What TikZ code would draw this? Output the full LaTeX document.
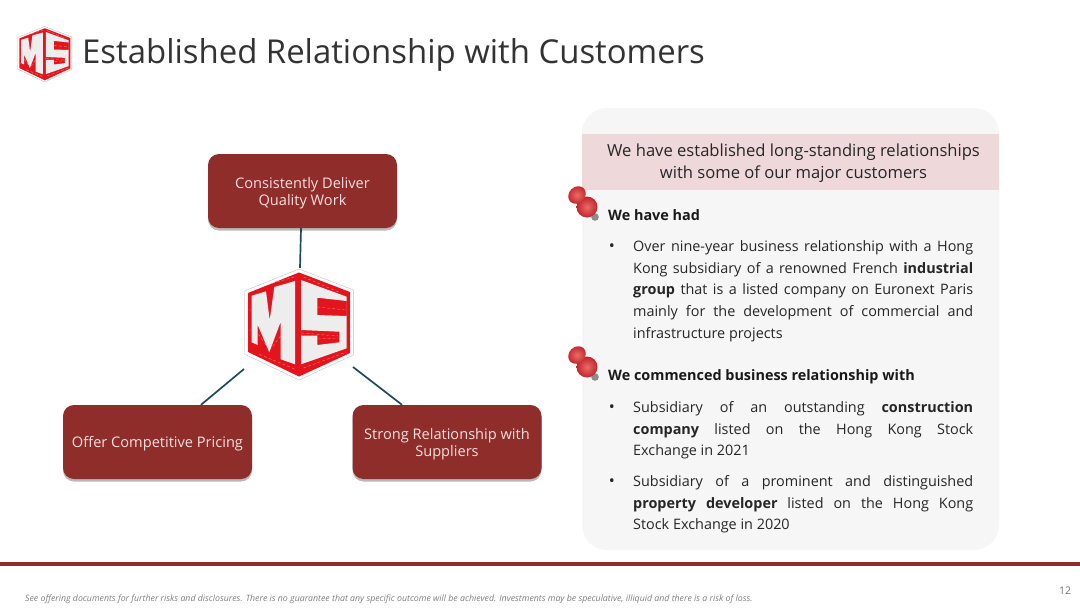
\documentclass[tikz,border=0pt]{standalone}
\usepackage{fontspec}
\setmainfont{Open Sans}
\usetikzlibrary{positioning,shadows,calc}
\definecolor{brickred}{HTML}{8F2D2B}
\definecolor{lightpink}{HTML}{F7E0DE}
\definecolor{bandpink}{HTML}{EFD8D9}
\definecolor{panelgray}{HTML}{F6F6F6}
\definecolor{linkblue}{HTML}{1F4A5C}
\definecolor{logored}{HTML}{E3141C}
\definecolor{logowhite}{HTML}{EDEDED}
\definecolor{pinlight}{HTML}{EE6A6A}
\definecolor{pindark}{HTML}{C0262B}
\tikzstyle{link} = [linkblue,line width=1.7pt]
\tikzstyle{bluebox} = [draw=none,fill=brickred,rounded corners=11pt,minimum width=189pt,minimum height=74pt,text=lightpink,align=center,font=\fontsize{14.6}{17}\selectfont,drop shadow={shadow xshift=0pt,shadow yshift=-2.5pt,opacity=.55}]
\tikzstyle{bodytext} = [inner sep=0pt,anchor=north west,align=left,text=black!85,font=\fontsize{14.4}{21.6}\selectfont]
\tikzstyle{headtext} = [inner sep=0pt,anchor=west,text=black!90,font=\fontsize{14.4}{16}\selectfont\bfseries]
\tikzstyle{bulletmark} = [inner sep=0pt,text=black!85,font=\fontsize{16}{16}\selectfont]
\newcommand{\jline}[1]{\makebox[340pt][s]{#1}}
\newcommand{\boxstrut}{\rule{0pt}{15pt}}
% hexagon with the two letters
\newcommand{\drawlogo}[2]{
  \begin{scope}[shift={(#1)},scale=#2]
    \fill[white,draw=black!25,line width=.4pt] (0.5,-55) -- (54.8,-34) -- (54.8,31) -- (0.5,56) -- (-54,30) -- (-54,-33) -- cycle;
    \fill[logored] (0.5,-51.5) -- (51.5,-32) -- (51.5,29) -- (0.5,52.5) -- (-50.5,28) -- (-50.5,-31) -- cycle;
    \draw[white,opacity=.45,line width=.4pt,densely dashed] (-50,-14) -- (-47,-14) (-50,6) -- (-47,6) (-40,10) -- (-32,22) (-18,12) -- (-27,24) (-17,26) -- (-4,26) (-36,-38) -- (-4,-47) (5,-47) -- (40,-32) (19,-17) -- (48,-14) (19,-3) -- (48,-2) (3,9) -- (40,12) (19,15) -- (40,14) (5,44) -- (48,28) (-4,45) -- (-40,30);
    \fill[logowhite] (-46.8,-28.3) -- (-32.5,-32.7) -- (-28.8,-4) -- (-24.2,-37) -- (-3.5,-43) -- (-3.5,40.3) -- (-17.8,35.3) -- (-17.8,-2.3) -- (-29.2,28.3) -- (-40.8,1) -- (-40.8,21) -- (-46.8,18.3) -- cycle;
    \fill[logowhite,even odd rule] (2.5,-44) -- (48.2,-27.3) -- (48.2,24.3) -- (2.5,40.3) -- cycle
      (18.8,-26.3) -- (48.2,-23) -- (48.2,-8) -- (18.8,-9) -- cycle
      (2.5,6) -- (40.8,7.7) -- (40.8,18.3) -- (18.8,21) -- (18.8,11.7) -- (2.5,11.7) -- cycle;
  \end{scope}
}
\newcommand{\drawpin}[1]{
  \begin{scope}[shift={(#1)}]
    \fill[black!45] (0,0) circle (3.8pt);
    \fill[pindark] (-20,-17) -- (-14,-24) -- (-4,-14) -- (-12,-5) -- cycle;
    \shade[inner color=pinlight,outer color=pindark] (-8,-10) circle (10.5pt);
    \shade[inner color=pinlight,outer color=pindark,rotate around={45:(-18,-22)}] (-18,-22) ellipse (9.5pt and 8pt);
  \end{scope}
}

\begin{document}
\begin{tikzpicture}[x=1pt,y=-1pt,on grid]
    \path[use as bounding box,fill=white] (0,0) rectangle (1080,608);
    \drawlogo{44.5,54}{0.5}
    \node[inner sep=0pt,anchor=west,text=black!80,font=\fontsize{32.9}{36}\selectfont] (title) at (82,55) {Established Relationship with Customers};

    \node[bluebox] (box_0) at (302.5,191) {\boxstrut Consistently Deliver\\Quality Work};
    \node[bluebox] (box_1) [below left=251pt and 145pt of box_0] {\boxstrut Offer Competitive Pricing};
    \node[bluebox] (box_2) [right=289.5pt of box_1] {\boxstrut Strong Relationship with\\Suppliers};
    \drawlogo{298.5,324}{1}
    \coordinate (logo_n) at (300,268);
    \coordinate (logo_sw) at (244,369);
    \coordinate (logo_se) at (353,367);
    \draw[link] ([xshift=-1.5pt]box_0.south) -- (logo_n);
    \draw[link] (logo_sw) -- ([xshift=43.5pt]box_1.north);
    \draw[link] (logo_se) -- ([xshift=-45pt]box_2.north);

    \path[fill=panelgray,rounded corners=25pt] (582,108) rectangle (999,550);
    \path[fill=bandpink] (582,134) rectangle (999,190);
    \node[inner sep=0pt,align=center,text=black!85,font=\fontsize{16.6}{22}\selectfont] (band) at (793.5,163.5) {We have established long-standing relationships\\with some of our major customers};

    \drawpin{595,217}
    \node[headtext] (head_a) at (608,215.5) {We have had};
    \node[bulletmark] (dot_a) at (612,248) {•};
    \node[bodytext] (text_a) at (633,240.5) {\jline{Over nine-year business relationship with a Hong}\\
      \jline{Kong subsidiary of a renowned French \textbf{industrial}}\\
      \jline{\textbf{group} that is a listed company on Euronext Paris}\\
      \jline{mainly for the development of commercial and}\\
      infrastructure projects};

    \drawpin{595,377}
    \node[headtext] (head_b) at (608,376.5) {We commenced business relationship with};
    \node[bulletmark] (dot_b) at (612,409) {•};
    \node[bodytext] (text_b) at (633,401.5) {\jline{Subsidiary of an outstanding \textbf{construction}}\\
      \jline{\textbf{company} listed on the Hong Kong Stock}\\
      Exchange in 2021};
    \node[bulletmark] (dot_c) at (612,483) {•};
    \node[bodytext] (text_c) at (633,475.5) {\jline{Subsidiary of a prominent and distinguished}\\
      \jline{\textbf{property developer} listed on the Hong Kong}\\
      Stock Exchange in 2020};

    \path[fill=brickred] (0,562) rectangle (1080,566);
    \node[inner sep=0pt,anchor=west,text=black!50,font=\fontsize{8.77}{9}\selectfont\itshape] (note) at (25,599) {See offering documents for further risks and disclosures. There is no guarantee that any specific outcome will be achieved. Investments may be speculative, illiquid and there is a risk of loss.};
    \node[inner sep=0pt,text=black!55,font=\fontsize{10.5}{12}\selectfont] (page) at (1065,591) {12};
\end{tikzpicture}
\end{document}
